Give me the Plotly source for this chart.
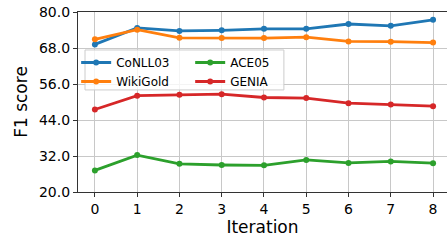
import plotly.graph_objects as go

iterations = [0, 1, 2, 3, 4, 5, 6, 7, 8]
conll03 = [69.2, 74.7, 73.7, 73.9, 74.4, 74.4, 76.0, 75.4, 77.4]
wikigold = [70.9, 74.1, 71.4, 71.3, 71.3, 71.6, 70.2, 70.1, 69.8]
ace05 = [27.2, 32.3, 29.4, 29.0, 28.9, 30.7, 29.7, 30.2, 29.6]
genia = [47.5, 52.1, 52.4, 52.6, 51.5, 51.3, 49.6, 49.2, 48.6]
y_ticks = [20, 32, 44, 56, 68, 80]

series = [
    ("CoNLL03", conll03, "#1f77b4", "legend"),
    ("WikiGold", wikigold, "#ff7f0e", "legend"),
    ("ACE05", ace05, "#2ca02c", "legend2"),
    ("GENIA", genia, "#d62728", "legend2"),
]

fig = go.Figure()
for name, vals, color, leg in series:
    fig.add_trace(go.Scatter(
        x=iterations, y=vals, name=name, mode="lines+markers",
        line=dict(color=color, width=2.8),
        marker=dict(color=color, size=6),
        legend=leg,
    ))

font = "DejaVu Sans"
leg_common = dict(
    orientation="v", yanchor="top", xanchor="left",
    bgcolor="rgba(0,0,0,0)", borderwidth=0, itemwidth=30,
    font=dict(size=12, family=font, color="black"), tracegroupgap=0,
)
fig.update_layout(
    width=447, height=241,
    margin=dict(l=78, r=0, t=12, b=49, autoexpand=False),
    plot_bgcolor="white", paper_bgcolor="white",
    font=dict(family=font, color="black", size=14),
    legend=dict(x=-0.005, y=0.80, **leg_common),
    legend2=dict(x=0.304, y=0.80, **leg_common),
    showlegend=True,
)
# legend frame (matplotlib-style box behind both legend columns)
fig.add_shape(
    type="rect", xref="x domain", yref="y domain",
    x0=0.019, x1=0.558, y0=0.567, y1=0.789,
    fillcolor="rgba(255,255,255,0.8)", line=dict(color="#cccccc", width=1),
    layer="above",
)
fig.update_xaxes(
    range=[-0.4, 8.33], tickvals=iterations, ticktext=[str(i) for i in iterations],
    showgrid=True, gridcolor="#c8c8c8", gridwidth=1,
    showline=True, linecolor="#333333", linewidth=1.2, mirror=True,
    ticks="outside", ticklen=4, tickcolor="#333333",
    title=dict(text="Iteration", font=dict(size=17, family=font), standoff=4),
    tickfont=dict(size=14), zeroline=False, automargin=False,
)
fig.update_yaxes(
    range=[20, 80], tickvals=y_ticks, ticktext=[f"{v:.1f}" for v in y_ticks],
    showgrid=True, gridcolor="#c8c8c8", gridwidth=1,
    showline=True, linecolor="#333333", linewidth=1.2,
    ticks="outside", ticklen=4, tickcolor="#333333",
    title=dict(text="F1 score", font=dict(size=17, family=font), standoff=6),
    tickfont=dict(size=14), zeroline=False, automargin=False,
)

fig.write_html(
    "out.html",
    config={"displayModeBar": False},
    post_script="document.body.style.margin='0px';document.body.style.overflow='hidden';",
)
